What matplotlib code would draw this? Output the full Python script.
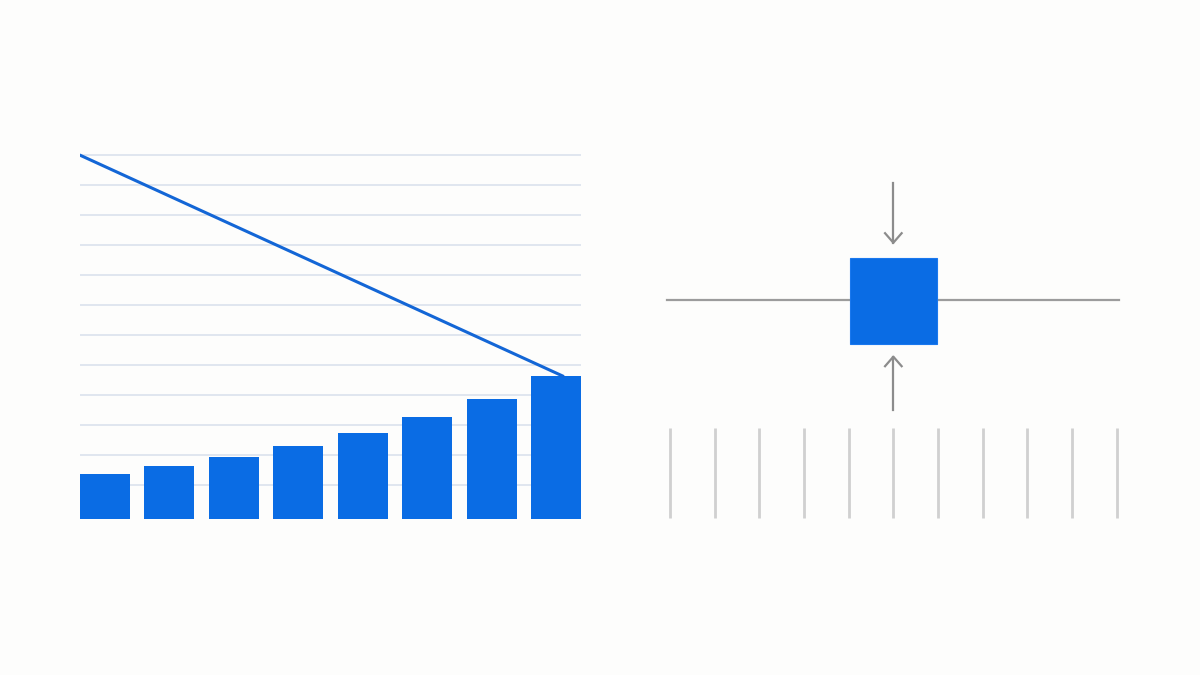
import matplotlib
matplotlib.use("Agg")
import matplotlib.pyplot as plt
from matplotlib.patches import Rectangle
import numpy as np

# ---------------- data ----------------
# left panel: bar heights (arbitrary units, 1 unit ~ 3 px)
bar_values = [15.0, 17.7, 20.6, 24.4, 28.6, 33.9, 40.0, 47.6]
grid_levels = [11.2 + 10 * k for k in range(12)]
trend_x = [-0.39, 7.11]
trend_y = [121.3, 47.6]

# right panel: schematic
tick_positions = list(range(11))
tick_bottom, tick_top = 11.7, 102.3
level_y = 230.0
line_x = [-0.06, 10.05]
box_center = 5.0
box_half_w = 0.975
box_bottom, box_top = 186.0, 272.3
arrow_top = (347.3, 287.3)      # start, tip (pointing down)
arrow_bottom = (120.0, 173.3)   # start, tip (pointing up)

BG = "#fdfdfc"
BLUE = "#0a6ce4"
LINE_BLUE = "#1366d6"

fig = plt.figure(figsize=(12, 6.75), dpi=100, facecolor=BG)
W, H = 1200, 675

# ---------------- left panel ----------------
axL = fig.add_axes([80 / W, (H - 519) / H, 501 / W, (519 - 150) / H])
axL.set_facecolor(BG)
x = np.arange(len(bar_values))
axL.set_xlim(-0.388, len(bar_values) - 1 + 0.388)
axL.set_ylim(0, 123)
for g in grid_levels:
    axL.axhline(g, color="#e0e6ef", lw=1.4, zorder=0)
axL.bar(x, bar_values, width=0.776, color=BLUE, zorder=2)
axL.plot(trend_x, trend_y, color=LINE_BLUE, lw=2.2, zorder=3,
         solid_capstyle="round")
axL.axis("off")

# ---------------- right panel ----------------
axR = fig.add_axes([660 / W, (H - 530) / H, 470 / W, 360 / H])
axR.set_facecolor(BG)
axR.set_xlim((660 - 670) / 44.67, (1130 - 670) / 44.67)
axR.set_ylim(0, 360)
for t in tick_positions:
    axR.plot([t, t], [tick_bottom, tick_top], color="#d0d0d0", lw=2,
             solid_capstyle="butt")
axR.plot(line_x, [level_y, level_y], color="#9c9c9c", lw=1.6)
axR.add_patch(Rectangle((box_center - box_half_w, box_bottom),
                        2 * box_half_w, box_top - box_bottom,
                        facecolor=BLUE, edgecolor="#1a78ee", lw=0.8,
                        zorder=3))

arm_dx = 8.3 / 44.67
arm_dy = 9.5
ac = "#8c8c8c"
# top arrow, pointing down
s, tip = arrow_top
axR.plot([box_center, box_center], [s, tip], color=ac, lw=1.6)
axR.plot([box_center - arm_dx, box_center, box_center + arm_dx],
         [tip + arm_dy, tip, tip + arm_dy], color=ac, lw=1.6)
# bottom arrow, pointing up
s, tip = arrow_bottom
axR.plot([box_center, box_center], [s, tip], color=ac, lw=1.6)
axR.plot([box_center - arm_dx, box_center, box_center + arm_dx],
         [tip - arm_dy, tip, tip - arm_dy], color=ac, lw=1.6)
axR.axis("off")

fig.savefig("out.png", dpi=100, facecolor=BG)
